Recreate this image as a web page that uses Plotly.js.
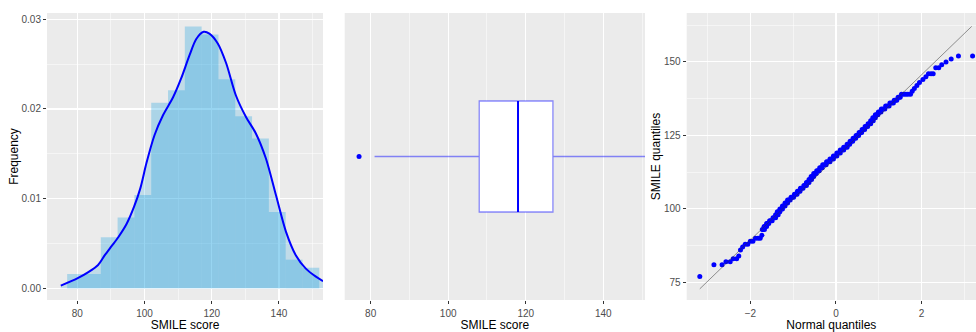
<!DOCTYPE html>
<html>
<head>
<meta charset="utf-8">
<script src="https://cdn.plot.ly/plotly-3.0.1.min.js"></script>
<style>html,body{margin:0;padding:0;background:#fff;}#chart{width:976px;height:332px;}</style>
</head>
<body>
<div id="chart"></div>
<script>
// ---- Histogram (density scale), bin width 5 ----
const histBinCenters = [79.5, 84.5, 89.5, 94.5, 99.5, 104.5, 109.5, 114.5, 119.5, 124.5, 129.5, 134.5, 139.5, 144.5, 149.5];
const histDensity = [0.0016, 0.0016, 0.0057, 0.0079, 0.0104, 0.0207, 0.0221, 0.0292, 0.0283, 0.0233, 0.0192, 0.0167, 0.0085, 0.0032, 0.0023];
const histBinWidth = 5;

// ---- Kernel density curve ----
const densityX = [75.1, 80.0, 83.3, 86.2, 88.2, 90.2, 92.2, 94.7, 96.9, 98.8, 100.6, 103.0, 105.5, 108.5, 110.9, 113.4, 115.4, 117.6, 119.3, 121.8, 124.3, 127.2, 130.2, 133.1, 136.1, 139.1, 142.1, 145.0, 148.0, 151.0, 153.1];
const densityY = [0.0003, 0.0011, 0.0018, 0.0026, 0.0037, 0.0047, 0.0057, 0.0072, 0.0091, 0.0112, 0.0140, 0.0171, 0.0193, 0.0213, 0.0234, 0.0260, 0.0278, 0.0286, 0.0284, 0.0273, 0.0251, 0.0215, 0.0191, 0.0173, 0.0145, 0.0104, 0.0063, 0.0037, 0.0022, 0.0013, 0.0008];

// ---- Box plot statistics ----
const boxLowerWhisker = [81];
const boxQ1 = [108];
const boxMedian = [118];
const boxQ3 = [127];
const boxUpperWhisker = [152];
const boxOutliers = [77];

// ---- Normal Q-Q plot ----
const qqTheoretical = [
 -3.18,-2.85,-2.66,-2.57,-2.47,-2.40,-2.32,-2.27,-2.23,-2.18,-2.12,-2.06,-2.00,-1.94,-1.88,-1.82,-1.77,-1.73,
 -1.72,-1.70,-1.67, -1.68,-1.65,-1.62, -1.62,-1.60,-1.57, -1.55,-1.52,-1.49, -1.47,-1.44,-1.41,
 -1.41,-1.38,-1.35, -1.37,-1.34,-1.31, -1.31,-1.28,-1.25, -1.25,-1.22,-1.19, -1.19,-1.16,-1.13,
 -1.13,-1.10,-1.07, -1.05,-1.02,-0.99, -0.97,-0.94,-0.91, -0.90,-0.87,-0.84, -0.83,-0.80,-0.77,
 -0.75,-0.72,-0.69, -0.69,-0.66,-0.63, -0.63,-0.60,-0.57, -0.58,-0.55,-0.52, -0.52,-0.49,-0.46,
 -0.45,-0.42,-0.39, -0.38,-0.35,-0.32, -0.31,-0.27,-0.23, -0.22,-0.18,-0.14, -0.14,-0.10,-0.06,
 -0.06,-0.02,0.02, 0.02,0.06,0.10, 0.10,0.14,0.18, 0.18,0.22,0.26, 0.26,0.29,0.32,
 0.33,0.36,0.39, 0.40,0.43,0.46, 0.47,0.50,0.53, 0.54,0.57,0.60, 0.61,0.64,0.67,
 0.68,0.71,0.74, 0.75,0.78,0.81, 0.81,0.84,0.87, 0.86,0.89,0.92, 0.92,0.95,0.98,
 0.99,1.02,1.05, 1.06,1.10,1.14, 1.16,1.20,1.24, 1.26,1.30,1.34, 1.36,1.39,1.42, 1.45,1.475,1.50,
 1.53,1.58,1.63,1.68,1.74,1.78,1.83,1.89,1.95,2.03,2.10,2.16,2.22,2.27,2.33,2.40,2.47,2.57,2.69,2.86,3.19];
const qqSample = [
 77,81,81,82,82,83,83,84,86,87,88,88,89,89,90,90,90,91,
 93,93,93, 94,94,94, 95,95,95, 96,96,96, 97,97,97,
 98,98,98, 99,99,99, 100,100,100, 101,101,101, 102,102,102,
 103,103,103, 104,104,104, 105,105,105, 106,106,106, 107,107,107,
 108,108,108, 109,109,109, 110,110,110, 111,111,111, 112,112,112,
 113,113,113, 114,114,114, 115,115,115, 116,116,116, 117,117,117,
 118,118,118, 119,119,119, 120,120,120, 121,121,121, 122,122,122,
 123,123,123, 124,124,124, 125,125,125, 126,126,126, 127,127,127,
 128,128,128, 129,129,129, 130,130,130, 131,131,131, 132,132,132,
 133,133,133, 134,134,134, 135,135,135, 136,136,136, 137,137,137, 138,138,138,
 139,139,139,139,139,140,141,142,143,144,145,146,146,146,148,148,149,150,151,152,152];
const qqLineX = [-3.18, 3.17];
const qqLineY = [72.8, 162.1];

// ---- Tick labels ----
const scoreTicks = [80, 100, 120, 140];
const freqTicks = [0, 0.01, 0.02, 0.03];
const freqTickText = ['0.00', '0.01', '0.02', '0.03'];
const normTicks = [-2, 0, 2];
const quantTicks = [75, 100, 125, 150];

// ---- styling ----
const boxWidth = 0.7735;
const FONT = 'Liberation Sans, Arial, sans-serif';

const traces = [
  {type:'bar', x:histBinCenters, y:histDensity, width:histBinWidth,
   marker:{color:'rgba(0,150,220,0.27)', line:{width:0}}, xaxis:'x', yaxis:'y', hoverinfo:'skip'},
  {type:'scatter', mode:'lines', x:densityX, y:densityY, fill:'tozeroy',
   fillcolor:'rgba(0,150,220,0.18)', line:{color:'#0000FF', width:2, shape:'spline', smoothing:0.8},
   xaxis:'x', yaxis:'y', hoverinfo:'skip'},
  {type:'box', orientation:'h', y:[0], q1:boxQ1, median:boxMedian, q3:boxQ3,
   lowerfence:boxLowerWhisker, upperfence:boxUpperWhisker, width:boxWidth, whiskerwidth:0,
   fillcolor:'#FFFFFF', line:{color:'rgba(0,0,255,0.45)', width:1.3}, boxpoints:false,
   xaxis:'x2', yaxis:'y2', hoverinfo:'skip'},
  {type:'scatter', mode:'lines', x:[boxMedian[0], boxMedian[0]], y:[-boxWidth/2, boxWidth/2],
   line:{color:'#0000FF', width:2}, xaxis:'x2', yaxis:'y2', hoverinfo:'skip'},
  {type:'scatter', mode:'markers', x:boxOutliers, y:boxOutliers.map(()=>0),
   marker:{color:'#0000FF', size:5}, xaxis:'x2', yaxis:'y2', hoverinfo:'skip'},
  {type:'scatter', mode:'markers', x:qqTheoretical, y:qqSample,
   marker:{color:'#0000FF', size:5}, xaxis:'x3', yaxis:'y3', hoverinfo:'skip'},
  {type:'scatter', mode:'lines', x:qqLineX, y:qqLineY,
   line:{color:'rgba(50,50,50,0.85)', width:0.6}, xaxis:'x3', yaxis:'y3', hoverinfo:'skip'}
];

function ax(extra){
  return Object.assign({
    showline:false, zeroline:false, ticks:'outside', ticklen:3, tickwidth:1, tickcolor:'#333333',
    gridcolor:'#FFFFFF', gridwidth:1.1, automargin:false, fixedrange:true,
    tickfont:{family:FONT, size:10, color:'#4D4D4D'}
  }, extra);
}
function ttl(t, standoff){
  return {text:t, font:{family:FONT, size:12, color:'#000000'}, standoff:standoff};
}
const minorStyle = {showgrid:true, gridcolor:'#FFFFFF', gridwidth:0.5, ticks:''};

const layout = {
  width:976, height:332,
  margin:{l:47, r:0, t:13, b:32},
  paper_bgcolor:'#FFFFFF', plot_bgcolor:'#EBEBEB',
  showlegend:false, barmode:'overlay',
  font:{family:FONT, size:10, color:'#4D4D4D'},
  xaxis: ax({domain:[0, 0.29709], range:[71.0, 153.1], tickvals:scoreTicks, ticklabelstandoff:1,
    minor:Object.assign({tickvals:[90,110,130,150]}, minorStyle), title:ttl('SMILE score', 3), anchor:'y'}),
  yaxis: ax({domain:[0,1], range:[-0.0013, 0.0307], tickvals:freqTicks, ticktext:freqTickText,
    minor:Object.assign({tickvals:[0.005,0.015,0.025]}, minorStyle), title:ttl('Frequency', 0), anchor:'x'}),
  xaxis2: ax({domain:[0.32045, 0.64370], range:[73.3, 150.75], tickvals:scoreTicks, ticklabelstandoff:1,
    minor:Object.assign({tickvals:[90,110,130,150]}, minorStyle), title:ttl('SMILE score', 3), anchor:'y2'}),
  yaxis2: ax({domain:[0,1], range:[-1, 1], showgrid:false, showticklabels:false, ticks:'', anchor:'x2'}),
  xaxis3: ax({domain:[0.68859, 1], range:[-3.486, 3.27], tickvals:normTicks, ticklabelstandoff:1,
    minor:Object.assign({tickvals:[-3,-1,1,3]}, minorStyle), title:ttl('Normal quantiles', 3), anchor:'y3'}),
  yaxis3: ax({domain:[0,1], range:[69.0, 166.65], tickvals:quantTicks,
    minor:Object.assign({tickvals:[87.5,112.5,137.5,162.5]}, minorStyle), title:ttl('SMILE quantiles', 0), anchor:'x3'})
};

Plotly.newPlot('chart', traces, layout, {staticPlot:true, displayModeBar:false});
</script>
</body>
</html>
